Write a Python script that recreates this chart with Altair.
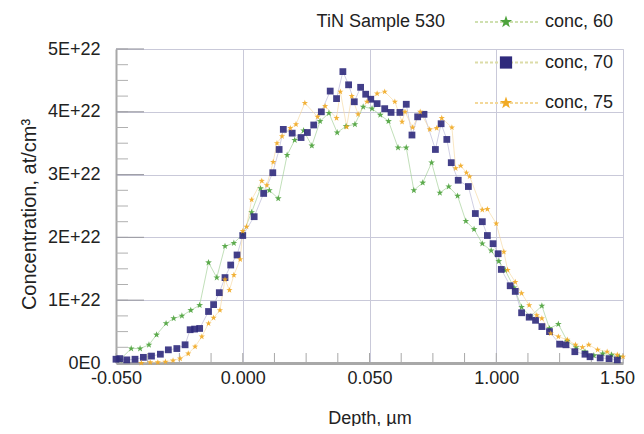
import altair as alt
import pandas as pd

# ---- data (x in axis-position units 0..4, y in units of 1E+22 at/cm3) ----
x_tick_labels = ["-0.050", "0.000", "0.050", "1.000", "1.50"]
series_names = ["conc, 60", "conc, 70", "conc, 75"]

c60_x = [0.03, 0.12, 0.19, 0.26, 0.32, 0.395, 0.455, 0.52, 0.59, 0.66, 0.73, 0.795, 0.86, 0.93,
         1.0, 1.07, 1.14, 1.21, 1.28, 1.35, 1.41, 1.48, 1.545, 1.61, 1.68, 1.745, 1.815, 1.885,
         1.95, 2.02, 2.085, 2.15, 2.225, 2.29, 2.35, 2.42, 2.49, 2.555, 2.625, 2.695, 2.76,
         2.825, 2.89, 2.96, 3.02, 3.07, 3.14, 3.20, 3.27, 3.36, 3.42, 3.49, 3.56, 3.63, 3.70,
         3.77, 3.84, 3.91, 3.97]
c60_y = [0.05, 0.23, 0.23, 0.29, 0.45, 0.63, 0.71, 0.75, 0.84, 0.92, 1.60, 1.36, 1.86, 1.91,
         2.05, 2.40, 2.78, 2.75, 2.62, 3.31, 3.55, 3.70, 3.46, 3.85, 3.98, 3.67, 3.77, 3.80,
         4.08, 4.05, 3.95, 3.85, 3.43, 3.43, 2.75, 2.87, 3.19, 2.71, 2.81, 2.66, 2.26,
         2.13, 1.90, 1.79, 1.62, 1.48, 1.20, 0.89, 0.74, 0.91, 0.55, 0.62, 0.35, 0.25, 0.18,
         0.12, 0.15, 0.13, 0.10]

c70_x = [0.0, 0.03, 0.085, 0.15, 0.216, 0.28, 0.35, 0.413, 0.48, 0.545, 0.585, 0.62, 0.66,
         0.73, 0.77, 0.815, 0.86, 0.905, 0.955, 1.0, 1.09, 1.165, 1.237, 1.287, 1.32, 1.39,
         1.46, 1.51, 1.56, 1.62, 1.69, 1.74, 1.79, 1.835, 1.88, 1.93, 1.97, 2.01, 2.06, 2.12,
         2.17, 2.24, 2.29, 2.335, 2.38, 2.43, 2.52, 2.565, 2.61, 2.645, 2.70, 2.78, 2.835,
         2.89, 2.93, 2.975, 3.015, 3.04, 3.11, 3.15, 3.20, 3.26, 3.31, 3.36, 3.42, 3.50, 3.55,
         3.62, 3.70, 3.74, 3.82, 3.89, 3.955]
c70_y = [0.06, 0.07, 0.05, 0.06, 0.09, 0.11, 0.14, 0.21, 0.23, 0.29, 0.53, 0.54, 0.55,
         0.82, 0.93, 1.12, 1.36, 1.56, 1.72, 2.03, 2.33, 2.70, 3.03, 3.40, 3.72, 3.66,
         3.59, 3.67, 3.79, 4.00, 4.33, 4.21, 4.64, 4.43, 4.16, 4.39, 4.28, 4.20, 4.13, 4.05,
         3.99, 3.99, 4.12, 3.63, 3.92, 3.96, 3.40, 3.81, 3.56, 3.19, 2.91, 2.81, 2.38,
         2.25, 2.03, 1.90, 1.74, 1.49, 1.23, 1.14, 0.80, 0.73, 0.68, 0.58, 0.50, 0.30, 0.29,
         0.18, 0.14, 0.10, 0.08, 0.07, 0.05]

c75_x = [0.2, 0.27, 0.33, 0.39, 0.45, 0.506, 0.57, 0.624, 0.677, 0.73, 0.77, 0.82, 0.86,
         0.895, 0.93, 0.98, 1.0, 1.03, 1.07, 1.15, 1.19, 1.24, 1.27, 1.31, 1.375, 1.42, 1.49,
         1.59, 1.65, 1.74, 1.77, 1.82, 1.86, 1.91, 1.98, 2.06, 2.12, 2.20, 2.257, 2.28, 2.34,
         2.40, 2.475, 2.53, 2.57, 2.65, 2.68, 2.72, 2.765, 2.79, 2.89, 2.93, 3.0, 3.06, 3.09,
         3.15, 3.20, 3.26, 3.32, 3.36, 3.43, 3.49, 3.56, 3.625, 3.68, 3.73, 3.80, 3.875,
         3.955, 4.0]
c75_y = [0.0, 0.01, 0.01, 0.02, 0.04, 0.07, 0.15, 0.26, 0.42, 0.63, 0.72, 0.84, 1.33,
         1.16, 1.40, 1.65, 2.10, 2.17, 2.60, 2.90, 2.83, 3.20, 3.50, 3.61, 3.74, 3.80, 4.14,
         3.92, 4.09, 3.90, 4.32, 3.76, 4.25, 3.96, 4.16, 4.29, 4.32, 4.16, 3.84, 4.00, 3.75,
         4.00, 3.72, 3.74, 3.90, 3.75, 3.10, 3.14, 3.03, 2.97, 2.44, 2.45, 2.22, 1.77, 1.48,
         1.29, 1.11, 0.92, 0.76, 0.71, 0.47, 0.42, 0.37, 0.29, 0.25, 0.29, 0.21, 0.18,
         0.13, 0.10]

y_tick_values = [0, 1, 2, 3, 4, 5]
x_tick_values = [0, 1, 2, 3, 4]
minor_y = [i * 0.25 for i in range(21)]
minor_x = [i * 0.25 for i in range(17)]

# ---- style ----
point_colors = ["#4ea33d", "#2f2a7c", "#f1aa24"]
line_colors = ["#9ccc8f", "#b4b2d2", "#f5d79e"]
legend_line_colors = ["#cfe0b0", "#dcdca8", "#f3d89a"]
STAR = ("M0,-1L0.235,-0.324L0.951,-0.309L0.38,0.124L0.588,0.809L0,0.4L-0.588,0.809"
        "L-0.38,0.124L-0.951,-0.309L-0.235,-0.324Z")
shapes = [STAR, "square", STAR]
sizes = [50, 42, 60]
FONT = "Liberation Sans"
FS = 18
W, H = 507, 314

rows = []
for name, xs, ys in [(series_names[0], c60_x, c60_y),
                     (series_names[1], c70_x, c70_y),
                     (series_names[2], c75_x, c75_y)]:
    for i, (a, b) in enumerate(zip(xs, ys)):
        rows.append({"series": name, "depth": a, "conc": b, "order": i})
df = pd.DataFrame(rows)

label_map = "[" + ",".join("'" + s + "'" for s in x_tick_labels) + "]"

xscale = alt.Scale(domain=[0, 4], nice=False, zero=False)
yscale = alt.Scale(domain=[0, 5], nice=False)

x_enc = alt.X("depth:Q", scale=xscale,
              axis=alt.Axis(values=x_tick_values, labelExpr=label_map + "[round(datum.value)]",
                            title="Depth, \u00b5m", labelFlush=False, labelOverlap=False,
                            labelBound=False,
                            labelOffset={"condition": {"test": "datum.value == 4", "value": -6},
                                         "value": 0},
                            grid=True, gridColor="#c9c9d9", gridWidth=1,
                            domainColor="#a8a8a8", domainWidth=3, ticks=False,
                            labelFont=FONT, labelFontSize=FS, labelColor="#222",
                            labelPadding=6, titleFont=FONT, titleFontSize=FS,
                            titleFontWeight="normal", titleColor="#222", titlePadding=22))
y_enc = alt.Y("conc:Q", scale=yscale,
              axis=alt.Axis(values=y_tick_values,
                            labelExpr="datum.value == 0 ? '0E0' : datum.value + 'E+22'",
                            title="Concentration, at/cm\u00b3",
                            grid=True, gridColor="#c9c9d9", gridWidth=1,
                            domainColor="#a8a8a8", domainWidth=2, ticks=False,
                            labelFont=FONT, labelFontSize=FS, labelColor="#222",
                            labelPadding=16, titleFont=FONT, titleFontSize=20,
                            titleFontWeight="normal", titleColor="#222",
                            titleY=165, titleX=-77))

color_pts = alt.Color("series:N", scale=alt.Scale(domain=series_names, range=point_colors), legend=None)
color_lines = alt.Color("series:N", scale=alt.Scale(domain=series_names, range=line_colors), legend=None)

base = alt.Chart(df)
lines = base.mark_line(strokeWidth=0.7, opacity=0.9).encode(
    x=x_enc, y=y_enc, color=color_lines, detail="series:N", order="order:Q")
points = base.mark_point(filled=True, opacity=0.9).encode(
    x=alt.X("depth:Q", scale=xscale), y=alt.Y("conc:Q", scale=yscale),
    color=color_pts,
    shape=alt.Shape("series:N", scale=alt.Scale(domain=series_names, range=shapes), legend=None),
    size=alt.Size("series:N", scale=alt.Scale(domain=series_names, range=sizes), legend=None))

# minor ticks (inside the frame)
ymin = alt.Chart(pd.DataFrame({"v": minor_y})).mark_rule(color="#b0b0b0", strokeWidth=1).encode(
    y=alt.Y("v:Q", scale=yscale), x=alt.value(0), x2=alt.value(12))
ymaj = alt.Chart(pd.DataFrame({"v": y_tick_values})).mark_rule(color="#a0a0a8", strokeWidth=1.2).encode(
    y=alt.Y("v:Q", scale=yscale), x=alt.value(0), x2=alt.value(28))
xmin = alt.Chart(pd.DataFrame({"v": minor_x})).mark_rule(color="#a8a8a8", strokeWidth=1).encode(
    x=alt.X("v:Q", scale=xscale), y=alt.value(H), y2=alt.value(H - 10))

# legend (drawn by hand: dotted line with symbol, then label)
legend_layers = []
title_layer = alt.Chart(pd.DataFrame({"t": ["TiN Sample 530"]})).mark_text(
    align="right", baseline="middle", font=FONT, fontSize=FS, color="#222").encode(
    text="t:N", x=alt.value(329), y=alt.value(-27))
legend_layers.append(title_layer)
for i, name in enumerate(series_names):
    yy = -27 + i * 40.5
    d = pd.DataFrame({"label": [name]})
    legend_layers.append(alt.Chart(d).mark_rule(color=legend_line_colors[i], strokeWidth=2,
                                                strokeDash=[3, 2]).encode(
        x=alt.value(359), x2=alt.value(422), y=alt.value(yy)))
    legend_layers.append(alt.Chart(d).mark_point(filled=True, shape=shapes[i], opacity=1,
                                                 color=point_colors[i],
                                                 size=[170, 150, 170][i]).encode(
        x=alt.value(390), y=alt.value(yy)))
    legend_layers.append(alt.Chart(d).mark_text(align="left", baseline="middle", font=FONT,
                                                fontSize=FS, color="#222").encode(
        text="label:N", x=alt.value(429), y=alt.value(yy)))

chart = alt.layer(lines, ymin, ymaj, xmin, points, *legend_layers).resolve_scale(
    color="independent"
).properties(
    width=W, height=H,
    autosize=alt.AutoSizeParams(type="none"),
    padding={"left": 108, "top": 41, "right": 13, "bottom": 63},
).configure_view(stroke="#a8a8a8", strokeWidth=1.5).configure(background="white")

chart.save("out.html", embed_options={"renderer": "svg", "actions": False})
